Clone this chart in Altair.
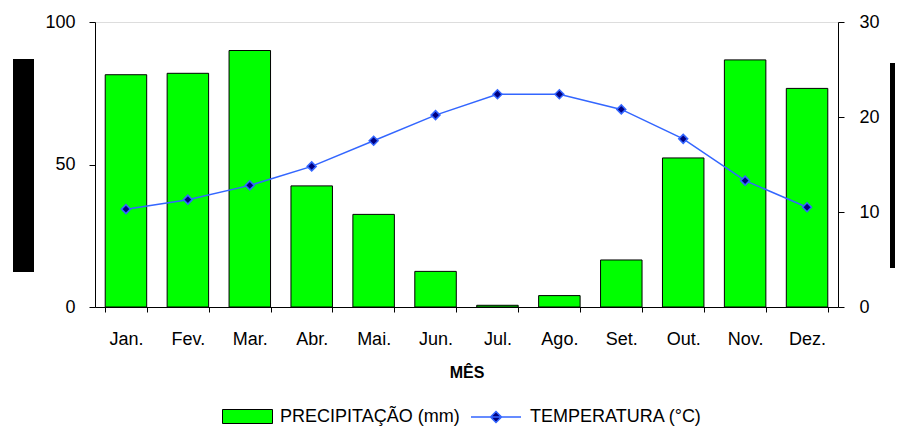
import altair as alt
import pandas as pd

months = ["Jan.", "Fev.", "Mar.", "Abr.", "Mai.", "Jun.", "Jul.", "Ago.", "Set.", "Out.", "Nov.", "Dez."]
precip = [81.5, 82.0, 90.0, 42.5, 32.5, 12.5, 0.6, 4.0, 16.5, 52.3, 86.7, 76.7]
temp = [10.3, 11.3, 12.8, 14.8, 17.5, 20.2, 22.4, 22.4, 20.8, 17.7, 13.3, 10.5]

df = pd.DataFrame({
    "mes": months,
    "prec": precip,
    "temp": temp,
    "s1": ["PRECIPITAÇÃO (mm)"] * 12,
    "s2": ["TEMPERATURA (°C)"] * 12,
})

FONT = "Liberation Sans"

xenc = alt.X(
    "mes:N", sort=months,
    scale=alt.Scale(paddingInner=0.33, paddingOuter=0.165),
    axis=alt.Axis(title="MÊS", labelAngle=0, tickBand="extent", labelFontSize=18,
                  labelPadding=18, tickSize=5, titleFontSize=16, titleFontWeight="bold",
                  titlePadding=16, labelFont=FONT, titleFont=FONT,
                  domainColor="black", tickColor="black", labelColor="black", titleColor="black"),
)

base = alt.Chart(df)

bars = base.mark_bar(stroke="black", strokeWidth=1).encode(
    x=xenc,
    y=alt.Y("prec:Q", scale=alt.Scale(domain=[0, 100], nice=False),
            axis=alt.Axis(title=None, values=[0, 50, 100], orient="left", grid=False,
                          labelFontSize=18, labelFont=FONT, tickSize=6, labelPadding=14,
                          domainColor="black", tickColor="black", labelColor="black")),
    fill=alt.Fill("s1:N", scale=alt.Scale(range=["#00FF00"]),
                  legend=alt.Legend(title=None, orient="none", legendX=127, legendY=369,
                                    symbolType="M-1,-0.28H1V0.28H-1Z", symbolSize=2500,
                                    symbolStrokeColor="black", symbolStrokeWidth=1,
                                    symbolFillColor="#00FF00", symbolOpacity=1,
                                    labelFontSize=18, labelFont=FONT, labelColor="black",
                                    labelOffset=7, labelLimit=400)),
)

line = base.mark_line(strokeWidth=1.5).encode(
    x=xenc,
    y=alt.Y("temp:Q", scale=alt.Scale(domain=[0, 30], nice=False),
            axis=alt.Axis(title=None, values=[0, 10, 20, 30], orient="right", grid=False,
                          labelFontSize=18, labelFont=FONT, tickSize=6, labelPadding=15,
                          domainColor="black", tickColor="black", labelColor="black")),
    stroke=alt.Stroke("s2:N", scale=alt.Scale(range=["#3366FF"]),
                      legend=alt.Legend(title=None, orient="none", legendX=375, legendY=369,
                                        symbolType="M-1,0H1M0,-0.22L0.22,0L0,0.22L-0.22,0Z",
                                        symbolSize=2500, symbolStrokeColor="#3366FF",
                                        symbolFillColor="#000080", symbolStrokeWidth=1.5,
                                        labelFontSize=18, labelFont=FONT, labelColor="black",
                                        labelOffset=8, labelLimit=400)),
)

points = base.mark_point(shape="diamond", filled=True, size=80, fill="#000080",
                         stroke="#3366FF", strokeWidth=1.5, opacity=1).encode(
    x=xenc,
    y=alt.Y("temp:Q", scale=alt.Scale(domain=[0, 30], nice=False), axis=None),
)

box_data = alt.Data(values=[{"k": 1}])
left_box = alt.Chart(box_data).mark_rect(color="black").encode(
    x=alt.value(-82), x2=alt.value(-61), y=alt.value(37), y2=alt.value(250))
right_box = alt.Chart(box_data).mark_rect(color="black").encode(
    x=alt.value(795), x2=alt.value(830), y=alt.value(41), y2=alt.value(246))

chart = alt.layer(bars, line, points, left_box, right_box).resolve_scale(
    y="independent", fill="independent", stroke="independent"
).properties(
    width=743, height=285,
    autosize=alt.AutoSizeParams(type="none"),
    padding={"left": 87, "top": 14, "right": 57, "bottom": 122},
).configure_view(strokeWidth=0, strokeOpacity=0).configure(
    background="white"
).configure_axis(
    labelFontSize=18, labelFont=FONT, titleFont=FONT
).configure_legend(labelFontSize=18, labelFont=FONT)

chart.save("out.html", embed_options={"renderer": "svg", "actions": False})
